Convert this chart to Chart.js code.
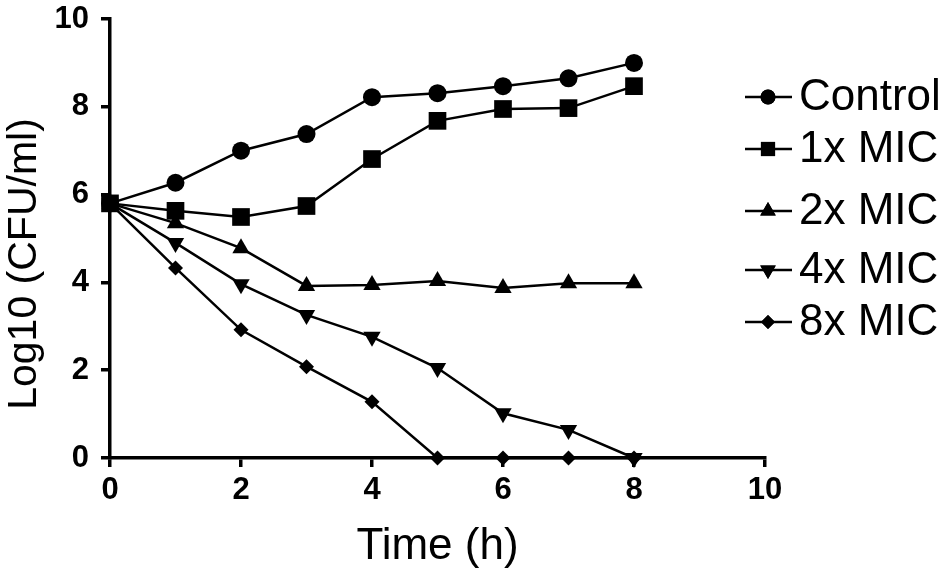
<!DOCTYPE html>
<html>
<head>
<meta charset="utf-8">
<script src="https://cdn.jsdelivr.net/npm/chart.js@4"></script>
<style>
  html, body { margin: 0; padding: 0; background: #fff; }
  #wrap { width: 950px; height: 579px; }
</style>
</head>
<body>
<div id="wrap"><canvas id="killChart" width="950" height="579"></canvas></div>
<script>
// time points (h)
const hours = [0, 1, 2, 3, 4, 5, 6, 7, 8];

// Log10 CFU/ml
const control = [5.8, 6.27, 7.0, 7.38, 8.22, 8.31, 8.47, 8.65, 9.0];
const mic1x = [5.8, 5.63, 5.49, 5.74, 6.81, 7.68, 7.95, 7.97, 8.47];
const mic2x = [5.8, 5.35, 4.78, 3.92, 3.94, 4.03, 3.87, 3.98, 3.98];
const mic4x = [5.8, 4.9, 3.96, 3.26, 2.76, 2.05, 1.02, 0.64, 0];
const mic8x = [5.8, 4.33, 2.92, 2.08, 1.28, 0, 0, 0, 0];

const seriesNames = ["Control", "1x MIC", "2x MIC", "4x MIC", "8x MIC"];
const xTicks = [0, 2, 4, 6, 8, 10];
const yTicks = [0, 2, 4, 6, 8, 10];
const xTitle = "Time (h)";
const yTitle = "Log10 (CFU/ml)";

const FONT = "'Liberation Sans', Arial, sans-serif";

// marker setup per series
const markers = [
  { style: "circle", radius: 9, rotation: 0, legendRadius: 7.5 },
  { style: "rect", radius: 12.5, rotation: 0, legendRadius: 10 },
  { style: "triangle", radius: 10, rotation: 0, legendRadius: 9 },
  { style: "triangle", radius: 10, rotation: 180, legendRadius: 9 },
  { style: "rectRot", radius: 7.5, rotation: 0, legendRadius: 7 },
];
const legendRows = [97, 149, 211, 270, 322];

function toPoints(vals) {
  return vals.map((v, i) => ({ x: hours[i], y: v }));
}

const allSeries = [control, mic1x, mic2x, mic4x, mic8x];

const datasets = allSeries.map((vals, i) => ({
  label: seriesNames[i],
  data: toPoints(vals),
  borderColor: "#000",
  backgroundColor: "#000",
  borderWidth: 2.5,
  pointStyle: markers[i].style,
  pointRadius: markers[i].radius,
  pointRotation: markers[i].rotation,
  pointBorderWidth: 0,
  pointBackgroundColor: "#000",
  tension: 0,
  clip: false,
}));

// legend on the right + y title (drawn by hand so it can sit a bit low like the figure)
const sideLegend = {
  id: "sideLegend",
  afterDraw(chart) {
    const ctx = chart.ctx;
    ctx.save();
    seriesNames.forEach((name, i) => {
      const y = legendRows[i];
      ctx.strokeStyle = "#000";
      ctx.lineWidth = 2.5;
      ctx.beginPath();
      ctx.moveTo(745, y);
      ctx.lineTo(792, y);
      ctx.stroke();
      ctx.fillStyle = "#000";
      Chart.helpers.drawPoint(ctx, {
        pointStyle: markers[i].style,
        radius: markers[i].legendRadius,
        rotation: markers[i].rotation,
        borderWidth: 0,
      }, 768, y);
      ctx.fill();
      ctx.font = "44px " + FONT;
      ctx.textAlign = "left";
      ctx.textBaseline = "middle";
      ctx.fillText(name, 799, y + 1);
    });

    ctx.translate(25, 264);
    ctx.rotate(-Math.PI / 2);
    ctx.font = "41px " + FONT;
    ctx.textAlign = "center";
    ctx.textBaseline = "middle";
    ctx.fillStyle = "#000";
    ctx.fillText(yTitle, 0, 0);
    ctx.restore();
  },
};

const ctx = document.getElementById("killChart").getContext("2d");
new Chart(ctx, {
  type: "line",
  data: { datasets: datasets },
  options: {
    responsive: false,
    animation: false,
    devicePixelRatio: 1,
    layout: { padding: { left: 0, top: 19, right: 185, bottom: 0 } },
    plugins: {
      legend: { display: false },
      tooltip: { enabled: false },
    },
    scales: {
      x: {
        type: "linear",
        min: 0,
        max: 10,
        afterFit: (s) => { s.height = 121; s.paddingLeft = 0; s.paddingRight = 0; },
        afterBuildTicks: (s) => { s.ticks = xTicks.map((v) => ({ value: v })); },
        grid: { display: true, drawOnChartArea: false, drawTicks: true, tickLength: 9, color: "#000", lineWidth: 3.5 },
        border: { display: true, color: "#000", width: 3.5 },
        ticks: { color: "#000", padding: 5, font: { family: FONT, size: 31, weight: "bold" } },
        title: {
          display: true,
          text: xTitle,
          color: "#000",
          font: { family: FONT, size: 44 },
          padding: { top: 0, bottom: 6 },
        },
      },
      y: {
        type: "linear",
        min: 0,
        max: 10,
        afterFit: (s) => { s.width = 110; s.paddingTop = 0; s.paddingBottom = 0; },
        afterBuildTicks: (s) => { s.ticks = yTicks.map((v) => ({ value: v })); },
        grid: { display: true, drawOnChartArea: false, drawTicks: true, tickLength: 9, color: "#000", lineWidth: 3.5 },
        border: { display: true, color: "#000", width: 3.5 },
        ticks: { color: "#000", padding: 12, font: { family: FONT, size: 31, weight: "bold" } },
        title: { display: false },
      },
    },
  },
  plugins: [sideLegend],
});
</script>
</body>
</html>
